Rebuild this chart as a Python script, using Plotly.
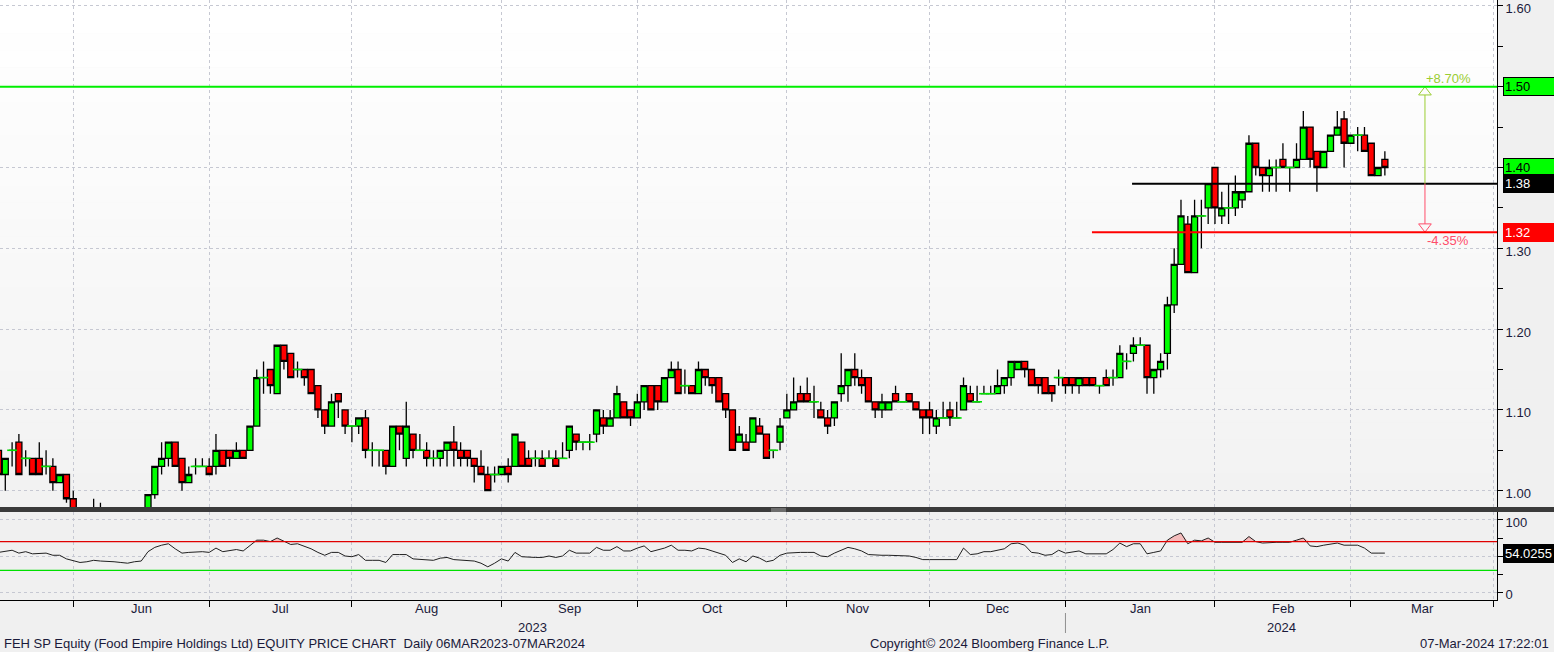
import pandas as pd
import plotly.graph_objects as go

# ---------------- data ----------------
SG_HOLIDAYS = ["2023-06-02", "2023-06-29", "2023-08-09", "2023-09-01",
               "2023-11-13", "2023-12-25", "2024-01-01", "2024-02-12"]

OPEN = [
    1.05, 1.02, 1.05, 1.06, 1.04, 1.04, 1.04, 1.03, 1.03, 1.01,
    1.02, 0.99, 0.965, 0.955, 0.96, 0.965, 0.96, 0.955, 0.95, 0.955,
    0.95, 0.96, 0.965, 0.995, 1.03, 1.04, 1.06, 1.04, 1.01, 1.03,
    1.03, 1.03, 1.03, 1.05, 1.05, 1.04, 1.05, 1.05, 1.08, 1.14,
    1.15, 1.12, 1.18, 1.17, 1.15, 1.15, 1.15, 1.13, 1.10, 1.08,
    1.12, 1.10, 1.08, 1.08, 1.09, 1.05, 1.05, 1.05, 1.03, 1.08,
    1.04, 1.07, 1.05, 1.05, 1.04, 1.04, 1.05, 1.06, 1.05, 1.05,
    1.04, 1.03, 1.02, 1.02, 1.02, 1.03, 1.03, 1.06, 1.04, 1.04,
    1.04, 1.04, 1.04, 1.04, 1.05, 1.07, 1.06, 1.06, 1.07, 1.09,
    1.08, 1.09, 1.11, 1.10, 1.09, 1.11, 1.13, 1.13, 1.11, 1.14,
    1.15, 1.13, 1.13, 1.12, 1.15, 1.14, 1.14, 1.12, 1.10, 1.06,
    1.06, 1.06, 1.08, 1.07, 1.05, 1.06, 1.09, 1.10, 1.12, 1.12,
    1.11, 1.10, 1.09, 1.09, 1.12, 1.13, 1.15, 1.14, 1.14, 1.11,
    1.10, 1.10, 1.12, 1.11, 1.12, 1.11, 1.10, 1.10, 1.08, 1.09,
    1.10, 1.09, 1.10, 1.12, 1.11, 1.12, 1.12, 1.12, 1.13, 1.14,
    1.15, 1.16, 1.15, 1.14, 1.14, 1.13, 1.14, 1.14, 1.14, 1.13,
    1.14, 1.14, 1.13, 1.14, 1.14, 1.14, 1.16, 1.17, 1.18, 1.18,
    1.14, 1.15, 1.17, 1.23, 1.28, 1.33, 1.27, 1.34, 1.35, 1.40,
    1.34, 1.35, 1.35, 1.36, 1.37, 1.43, 1.40, 1.39, 1.40, 1.41,
    1.40, 1.40, 1.41, 1.45, 1.42, 1.40, 1.42, 1.44, 1.46, 1.43,
    1.44, 1.44, 1.43, 1.39, 1.41,
]
HIGH = [
    1.06, 1.04, 1.06, 1.07, 1.05, 1.04, 1.06, 1.05, 1.04, 1.02,
    1.02, 1.00, 0.975, 0.97, 0.99, 0.985, 0.97, 0.965, 0.96, 0.965,
    0.965, 0.97, 0.995, 1.03, 1.06, 1.06, 1.06, 1.04, 1.03, 1.04,
    1.04, 1.04, 1.07, 1.05, 1.05, 1.06, 1.05, 1.08, 1.15, 1.16,
    1.15, 1.18, 1.18, 1.17, 1.16, 1.15, 1.15, 1.13, 1.10, 1.12,
    1.12, 1.10, 1.08, 1.09, 1.10, 1.06, 1.05, 1.05, 1.08, 1.08,
    1.11, 1.07, 1.07, 1.06, 1.05, 1.05, 1.06, 1.08, 1.06, 1.05,
    1.04, 1.05, 1.03, 1.03, 1.03, 1.04, 1.07, 1.06, 1.05, 1.05,
    1.05, 1.05, 1.05, 1.06, 1.08, 1.07, 1.06, 1.07, 1.10, 1.10,
    1.10, 1.13, 1.11, 1.10, 1.12, 1.13, 1.13, 1.13, 1.14, 1.16,
    1.16, 1.15, 1.13, 1.16, 1.15, 1.14, 1.14, 1.12, 1.10, 1.08,
    1.07, 1.09, 1.09, 1.07, 1.05, 1.09, 1.12, 1.14, 1.13, 1.14,
    1.13, 1.11, 1.10, 1.11, 1.17, 1.15, 1.17, 1.15, 1.14, 1.11,
    1.12, 1.11, 1.13, 1.11, 1.12, 1.11, 1.10, 1.11, 1.10, 1.11,
    1.11, 1.11, 1.14, 1.13, 1.13, 1.13, 1.13, 1.15, 1.14, 1.16,
    1.16, 1.16, 1.15, 1.14, 1.14, 1.13, 1.15, 1.14, 1.14, 1.14,
    1.14, 1.14, 1.13, 1.15, 1.15, 1.18, 1.17, 1.19, 1.19, 1.18,
    1.15, 1.17, 1.24, 1.30, 1.36, 1.34, 1.36, 1.36, 1.38, 1.40,
    1.37, 1.38, 1.39, 1.37, 1.44, 1.43, 1.40, 1.41, 1.41, 1.43,
    1.40, 1.43, 1.47, 1.45, 1.42, 1.42, 1.44, 1.47, 1.47, 1.44,
    1.45, 1.45, 1.43, 1.40, 1.42,
]
LOW = [
    1.01, 1.00, 1.03, 1.02, 1.03, 1.02, 1.02, 1.02, 1.00, 1.01,
    0.985, 0.96, 0.95, 0.945, 0.955, 0.955, 0.95, 0.945, 0.94, 0.945,
    0.945, 0.95, 0.96, 0.99, 1.02, 1.03, 1.03, 1.00, 1.01, 1.02,
    1.03, 1.02, 1.02, 1.03, 1.03, 1.04, 1.04, 1.05, 1.08, 1.12,
    1.12, 1.12, 1.15, 1.14, 1.14, 1.13, 1.12, 1.09, 1.07, 1.08,
    1.09, 1.07, 1.06, 1.07, 1.04, 1.03, 1.03, 1.02, 1.03, 1.05,
    1.03, 1.04, 1.05, 1.03, 1.03, 1.03, 1.03, 1.03, 1.03, 1.03,
    1.01, 1.02, 1.00, 1.01, 1.02, 1.01, 1.03, 1.03, 1.03, 1.03,
    1.03, 1.04, 1.03, 1.04, 1.04, 1.05, 1.05, 1.05, 1.06, 1.07,
    1.08, 1.09, 1.09, 1.08, 1.09, 1.10, 1.10, 1.10, 1.11, 1.14,
    1.12, 1.12, 1.12, 1.12, 1.13, 1.12, 1.11, 1.09, 1.05, 1.06,
    1.05, 1.06, 1.07, 1.04, 1.04, 1.05, 1.09, 1.10, 1.11, 1.11,
    1.09, 1.09, 1.07, 1.08, 1.11, 1.11, 1.13, 1.12, 1.11, 1.09,
    1.09, 1.10, 1.11, 1.11, 1.11, 1.10, 1.07, 1.07, 1.07, 1.09,
    1.08, 1.09, 1.10, 1.11, 1.11, 1.12, 1.12, 1.12, 1.12, 1.13,
    1.15, 1.14, 1.13, 1.12, 1.12, 1.11, 1.13, 1.12, 1.12, 1.12,
    1.13, 1.13, 1.12, 1.13, 1.13, 1.14, 1.15, 1.16, 1.18, 1.12,
    1.12, 1.14, 1.15, 1.22, 1.28, 1.27, 1.27, 1.30, 1.33, 1.33,
    1.33, 1.33, 1.34, 1.35, 1.37, 1.39, 1.37, 1.37, 1.37, 1.40,
    1.37, 1.40, 1.41, 1.40, 1.37, 1.40, 1.42, 1.44, 1.40, 1.43,
    1.42, 1.42, 1.39, 1.39, 1.39,
]
CLOSE = [
    1.02, 1.04, 1.05, 1.02, 1.04, 1.02, 1.02, 1.03, 1.01, 1.02,
    0.99, 0.965, 0.955, 0.96, 0.965, 0.96, 0.955, 0.95, 0.955, 0.95,
    0.96, 0.965, 0.995, 1.03, 1.04, 1.06, 1.03, 1.01, 1.02, 1.03,
    1.03, 1.02, 1.05, 1.03, 1.04, 1.05, 1.04, 1.08, 1.14, 1.14,
    1.13, 1.18, 1.16, 1.14, 1.15, 1.14, 1.12, 1.10, 1.08, 1.11,
    1.11, 1.08, 1.08, 1.09, 1.05, 1.05, 1.05, 1.03, 1.08, 1.07,
    1.08, 1.05, 1.05, 1.04, 1.04, 1.05, 1.06, 1.05, 1.04, 1.04,
    1.03, 1.02, 1.00, 1.02, 1.03, 1.02, 1.07, 1.03, 1.03, 1.04,
    1.03, 1.04, 1.03, 1.04, 1.08, 1.06, 1.06, 1.06, 1.10, 1.08,
    1.09, 1.12, 1.09, 1.09, 1.11, 1.13, 1.10, 1.11, 1.14, 1.15,
    1.12, 1.13, 1.12, 1.15, 1.14, 1.13, 1.11, 1.10, 1.05, 1.07,
    1.05, 1.09, 1.07, 1.04, 1.05, 1.08, 1.10, 1.11, 1.11, 1.11,
    1.11, 1.09, 1.08, 1.11, 1.13, 1.15, 1.14, 1.13, 1.11, 1.10,
    1.11, 1.11, 1.11, 1.11, 1.11, 1.10, 1.09, 1.09, 1.09, 1.09,
    1.09, 1.09, 1.13, 1.11, 1.11, 1.12, 1.12, 1.13, 1.14, 1.16,
    1.16, 1.15, 1.13, 1.13, 1.12, 1.12, 1.14, 1.13, 1.13, 1.14,
    1.13, 1.13, 1.13, 1.13, 1.14, 1.17, 1.16, 1.18, 1.18, 1.14,
    1.15, 1.16, 1.23, 1.28, 1.34, 1.27, 1.34, 1.34, 1.38, 1.35,
    1.35, 1.35, 1.37, 1.37, 1.43, 1.40, 1.39, 1.40, 1.40, 1.40,
    1.40, 1.41, 1.45, 1.41, 1.40, 1.42, 1.44, 1.45, 1.43, 1.44,
    1.44, 1.42, 1.39, 1.40, 1.40,
]
RSI = [
    55, 56, 58, 54, 56, 53, 53, 54, 51, 51,
    46, 44, 41, 42, 44, 43, 43, 42, 41, 40,
    42, 43, 56, 62, 65, 67, 60, 54, 55, 56,
    56, 55, 61, 56, 58, 59, 57, 65, 72, 72,
    70, 75, 70, 66, 67, 64, 60, 55, 51, 55,
    55, 50, 49, 52, 44, 44, 44, 41, 52, 52,
    52, 46, 45, 44, 44, 47, 48, 45, 44, 44,
    43, 40, 35, 40, 46, 43, 55, 49, 48, 48,
    48, 50, 48, 50, 58, 54, 54, 54, 62, 58,
    58, 63, 57, 57, 61, 64, 56, 58, 61, 65,
    58, 58, 57, 61, 60, 57, 54, 51, 41, 46,
    42, 50, 47, 42, 44, 51, 54, 55, 55, 55,
    55, 50, 49, 54, 58, 62, 60, 57, 52, 51,
    51, 51, 51, 51, 50, 48, 45, 45, 45, 45,
    45, 45, 61, 52, 53, 56, 56, 58, 60, 67,
    68, 65, 55, 54, 51, 52, 58, 54, 55, 57,
    53, 53, 53, 53, 59, 68, 63, 67, 67, 53,
    55, 57, 72, 78, 82, 67, 72, 71, 75, 69,
    69, 69, 69, 69, 77, 70, 68, 69, 69, 69,
    69, 72, 75, 64, 63, 65, 67, 68, 65, 65,
    65, 61, 54, 54, 54.0255,
]
MONTH_LABELS = ["Jun", "Jul", "Aug", "Sep", "Oct", "Nov", "Dec", "Jan", "Feb", "Mar"]
YEAR_LABELS = ["2023", "2024"]
PRICE_TICKS = [1.00, 1.10, 1.20, 1.30, 1.40, 1.50, 1.60]
RSI_TICKS = [0, 50, 100]
RSI_HIGH, RSI_LOW = 70, 30
UPPER_LEVEL, PIVOT_LEVEL, LOWER_LEVEL = 1.50, 1.38, 1.32
PIVOT_START, LOWER_START, ARROW_AT = 166.8, 160.9, 209.9   # trading-day index positions
FOOTER_LEFT = "FEH SP Equity (Food Empire Holdings Ltd) EQUITY PRICE CHART\u00a0\u00a0Daily 06MAR2023-07MAR2024"
FOOTER_MID = "Copyright\u00a9 2024 Bloomberg Finance L.P."
FOOTER_RIGHT = "07-Mar-2024 17:22:01"

# ---------------- axes / calendar ----------------
days = pd.bdate_range("2023-05-16", "2024-03-29")
days = days[~days.isin(pd.to_datetime(SG_HOLIDAYS))]
n = len(CLOSE)
x = list(range(n))
mkey = list(days.year * 100 + days.month)
month_ends = [i for i in range(len(days)) if i == len(days) - 1 or mkey[i] != mkey[i + 1]]
year_end = max(i for i in range(len(days)) if days[i].year == 2023)

W, H = 1554, 652
ML, MR, MT, MB = 0, 57, 0, 52
PW, PH = W - ML - MR, H - MT - MB
X0, X1 = 0.22, 220.5
PXD = PW / (X1 - X0)
MAIN_BOT_PX, RSI_TOP_PX = 507, 512
Y0, Y1 = 0.9798, 1.6073
R0, R1 = -11.1, 111.1
PPP = (Y1 - Y0) / MAIN_BOT_PX          # price per pixel


def py(px):
    return (PH - px) / PH


MAIN_DOM = [py(MAIN_BOT_PX), 1]
RSI_DOM = [0, py(RSI_TOP_PX)]

FONT = "Liberation Sans, Arial, sans-serif"
TXT = "#1a1a3a"
GRID = "#c6c8d2"
GREEN, RED = "#00ee00", "#ff0000"

fig = go.Figure()

fig.add_trace(go.Candlestick(
    x=x, open=OPEN, high=HIGH, low=LOW, close=CLOSE,
    xaxis="x", yaxis="y", whiskerwidth=0,
    increasing=dict(line=dict(color="black", width=1.3), fillcolor="#00ff00"),
    decreasing=dict(line=dict(color="black", width=1.3), fillcolor="#ff0000"),
    showlegend=False, name="FEH SP"))

doji = [i for i in x if OPEN[i] == CLOSE[i]]
fig.add_trace(go.Scatter(
    x=doji, y=[CLOSE[i] for i in doji], mode="markers", xaxis="x", yaxis="y",
    marker=dict(symbol="line-ew", size=7, line=dict(color="#00e000", width=1.6)),
    hoverinfo="skip", showlegend=False))

# arrow heads
fig.add_trace(go.Scatter(
    x=[ARROW_AT], y=[UPPER_LEVEL - 5.5 * PPP], mode="markers", xaxis="x", yaxis="y",
    marker=dict(symbol="triangle-up-open", size=11, color="#9acd32", line=dict(width=1)),
    hoverinfo="skip", showlegend=False, cliponaxis=False))
fig.add_trace(go.Scatter(
    x=[ARROW_AT], y=[LOWER_LEVEL + 5.5 * PPP], mode="markers", xaxis="x", yaxis="y",
    marker=dict(symbol="triangle-down-open", size=11, color="#ff4d6a", line=dict(width=1)),
    hoverinfo="skip", showlegend=False, cliponaxis=False))

# RSI
fig.add_trace(go.Scatter(x=x, y=[RSI_HIGH] * n, mode="lines", line=dict(width=0),
                         xaxis="x2", yaxis="y2", hoverinfo="skip", showlegend=False))
fig.add_trace(go.Scatter(x=x, y=[max(v, RSI_HIGH) for v in RSI], mode="lines",
                         line=dict(width=0), fill="tonexty", fillcolor="#f4bcbc",
                         xaxis="x2", yaxis="y2", hoverinfo="skip", showlegend=False))
fig.add_trace(go.Scatter(x=x, y=RSI, mode="lines", line=dict(color="#202020", width=1),
                         xaxis="x2", yaxis="y2", showlegend=False, name="RSI"))

# axis triangles and label notches (outside plot area)
XT = X1 + 3.2 / PXD
fig.add_trace(go.Scatter(x=[XT] * len(PRICE_TICKS), y=PRICE_TICKS, mode="markers",
                         xaxis="x", yaxis="y", cliponaxis=False, hoverinfo="skip",
                         marker=dict(symbol="triangle-right", size=7, color="black"),
                         showlegend=False))
fig.add_trace(go.Scatter(x=[XT, XT], y=[RSI_TICKS[0], RSI_TICKS[-1]], mode="markers",
                         xaxis="x2", yaxis="y2", cliponaxis=False, hoverinfo="skip",
                         marker=dict(symbol="triangle-right", size=7, color="black"),
                         showlegend=False))

XN = X1 + 5.0 / PXD
boxes = [  # (value, fill, text colour, axis)
    (UPPER_LEVEL, "#00ff00", "black", "y"),
    (CLOSE[-1], "#00ff00", "black", "y"),
    (PIVOT_LEVEL, "black", "white", "y"),
    (LOWER_LEVEL, "#ff0000", "white", "y"),
    (RSI[-1], "black", "white", "y2"),
]
covered = {round(UPPER_LEVEL, 2), round(CLOSE[-1], 2)}
for val, fill, tc, ax in boxes:
    fig.add_trace(go.Scatter(x=[XN], y=[val], mode="markers",
                             xaxis="x" if ax == "y" else "x2", yaxis=ax,
                             cliponaxis=False, hoverinfo="skip", showlegend=False,
                             marker=dict(symbol="triangle-left", size=11, color=fill,
                                         line=dict(width=0))))

shapes = []
# gradient background of main panel
NB = 30
for k in range(NB):
    y0 = MAIN_DOM[0] + k * (MAIN_DOM[1] - MAIN_DOM[0]) / NB
    y1 = MAIN_DOM[0] + (k + 1.02) * (MAIN_DOM[1] - MAIN_DOM[0]) / NB
    c = int(round(242 + 13 * k / (NB - 1)))
    shapes.append(dict(type="rect", xref="paper", yref="paper", x0=0, x1=1, y0=y0, y1=min(y1, 1),
                       fillcolor=f"rgb({c},{c},{c})", line=dict(width=0), layer="below"))
# level lines
shapes.append(dict(type="line", xref="paper", yref="y", x0=0, x1=1, y0=UPPER_LEVEL, y1=UPPER_LEVEL,
                   line=dict(color=GREEN, width=2), layer="above"))
shapes.append(dict(type="line", xref="x", yref="y", x0=PIVOT_START, x1=X1, y0=PIVOT_LEVEL, y1=PIVOT_LEVEL,
                   line=dict(color="black", width=2), layer="above"))
shapes.append(dict(type="line", xref="x", yref="y", x0=LOWER_START, x1=X1, y0=LOWER_LEVEL, y1=LOWER_LEVEL,
                   line=dict(color=RED, width=2), layer="above"))
# measure arrow
shapes.append(dict(type="line", xref="x", yref="y", x0=ARROW_AT, x1=ARROW_AT,
                   y0=PIVOT_LEVEL, y1=UPPER_LEVEL - 8.3 * PPP, line=dict(color="#9acd32", width=1)))
shapes.append(dict(type="line", xref="x", yref="y", x0=ARROW_AT, x1=ARROW_AT,
                   y0=PIVOT_LEVEL, y1=LOWER_LEVEL + 8.3 * PPP, line=dict(color="#ff4d6a", width=1)))
# RSI 70/30
shapes.append(dict(type="line", xref="paper", yref="y2", x0=0, x1=1, y0=RSI_HIGH, y1=RSI_HIGH,
                   line=dict(color="#e00000", width=1.3)))
shapes.append(dict(type="line", xref="paper", yref="y2", x0=0, x1=1, y0=RSI_LOW, y1=RSI_LOW,
                   line=dict(color="#00e000", width=1.3)))
# separator bar between panels
shapes.append(dict(type="rect", xref="paper", yref="paper", x0=0, x1=W / PW,
                   y0=py(RSI_TOP_PX), y1=py(MAIN_BOT_PX), fillcolor="#3b3b3b",
                   line=dict(width=0), layer="above"))
for ypx in (509, 511):
    shapes.append(dict(type="line", xref="paper", yref="paper", x0=771 / PW, x1=786 / PW,
                       y0=py(ypx), y1=py(ypx), line=dict(color="#a0a0a0", width=1), layer="above"))
# year separator
shapes.append(dict(type="line", xref="x2", yref="paper", x0=year_end, x1=year_end,
                   y0=py(613), y1=py(633), line=dict(color="#909090", width=1)))

ann = []
for k in range(1, len(month_ends)):
    ann.append(dict(x=(month_ends[k - 1] + month_ends[k]) / 2, y=py(609), xref="x2", yref="paper",
                    text=MONTH_LABELS[k - 1], showarrow=False, xanchor="center", yanchor="middle",
                    font=dict(family=FONT, size=13, color=TXT)))
ann.append(dict(x=(X0 + year_end) / 2, y=py(627), xref="x2", yref="paper", text=YEAR_LABELS[0],
                showarrow=False, yanchor="middle", font=dict(family=FONT, size=13, color=TXT)))
ann.append(dict(x=(year_end + X1) / 2, y=py(627), xref="x2", yref="paper", text=YEAR_LABELS[1],
                showarrow=False, yanchor="middle", font=dict(family=FONT, size=13, color=TXT)))
ann.append(dict(x=0, y=py(643), xref="paper", yref="paper", text=FOOTER_LEFT, showarrow=False,
                xanchor="left", yanchor="middle", xshift=2, font=dict(family=FONT, size=13, color=TXT)))
ann.append(dict(x=868 / PW, y=py(643), xref="paper", yref="paper", text=FOOTER_MID, showarrow=False,
                xanchor="left", yanchor="middle", font=dict(family=FONT, size=13, color=TXT)))
ann.append(dict(x=1551 / PW, y=py(643), xref="paper", yref="paper", text=FOOTER_RIGHT, showarrow=False,
                xanchor="right", yanchor="middle", font=dict(family=FONT, size=13, color=TXT)))
# percentage texts
up_pct = (UPPER_LEVEL / PIVOT_LEVEL - 1) * 100
dn_pct = (LOWER_LEVEL / PIVOT_LEVEL - 1) * 100
ann.append(dict(x=ARROW_AT, y=UPPER_LEVEL, xref="x", yref="y", text=f"+{up_pct:.2f}%",
                showarrow=False, xanchor="left", yanchor="bottom", xshift=-1, yshift=-1,
                font=dict(family=FONT, size=13, color="#9acd32")))
ann.append(dict(x=ARROW_AT, y=LOWER_LEVEL, xref="x", yref="y", text=f"{dn_pct:.2f}%",
                showarrow=False, xanchor="left", yanchor="top", xshift=0, yshift=1,
                font=dict(family=FONT, size=13, color="#ff4d6a")))
# value boxes on the right
for val, fill, tc, ax in boxes:
    txt = f"{val:.4f}" if ax == "y2" else f"{val:.2f}"
    ann.append(dict(x=1, y=val, xref="paper", yref=ax, text=txt, showarrow=False,
                    xanchor="left", yanchor="middle", xshift=6, width=49, align="left",
                    bgcolor=fill, bordercolor="black" if fill == "#00ff00" else fill,
                    borderwidth=1, borderpad=1,
                    font=dict(family=FONT, size=13, color=tc)))

axis_common = dict(showgrid=True, gridcolor=GRID, griddash="3px,3px", gridwidth=1, zeroline=False)

fig.update_layout(
    width=W, height=H, margin=dict(l=ML, r=MR, t=MT, b=MB, autoexpand=False),
    paper_bgcolor="#f0f0f0", plot_bgcolor="rgba(0,0,0,0)",
    showlegend=False, boxgap=0.06, boxgroupgap=0.06,
    hovermode="closest",
    xaxis=dict(domain=[0, 1], range=[X0, X1], anchor="y", tickvals=month_ends,
               showticklabels=False, ticks="", showline=False,
               rangeslider=dict(visible=False), **axis_common),
    xaxis2=dict(domain=[0, 1], range=[X0, X1], anchor="y2", tickvals=month_ends,
                showticklabels=False, ticks="outside", ticklen=6, tickcolor="black",
                showline=True, linecolor="black", linewidth=1, **axis_common),
    yaxis=dict(domain=MAIN_DOM, range=[Y0, Y1], side="right", anchor="x",
               tickvals=PRICE_TICKS,
               ticktext=["" if round(v, 2) in covered else f"{v:.2f}" for v in PRICE_TICKS],
               ticks="outside", ticklen=5, tickcolor="black", ticklabeloverflow="allow",
               ticklabelshift=3,
               minor=dict(dtick=0.05, tick0=0, ticks="outside", ticklen=5, tickcolor="black",
                          showgrid=False),
               showline=True, linecolor="black", linewidth=1,
               tickfont=dict(family=FONT, size=13, color=TXT), **axis_common),
    yaxis2=dict(domain=RSI_DOM, range=[R0, R1], side="right", anchor="x2",
                tickvals=RSI_TICKS, ticktext=["0", "", "100"],
                ticks="outside", ticklen=5, tickcolor="black", ticklabeloverflow="allow",
                ticklabelshift=2,
                minor=dict(dtick=25, tick0=0, ticks="outside", ticklen=5, tickcolor="black",
                           showgrid=False),
                showline=True, linecolor="black", linewidth=1,
                tickfont=dict(family=FONT, size=13, color=TXT), **axis_common),
    shapes=shapes, annotations=ann,
)

fig.write_html("out.html", config={"displayModeBar": False},
               post_script="document.body.style.margin='0';document.body.style.overflow='hidden';")
